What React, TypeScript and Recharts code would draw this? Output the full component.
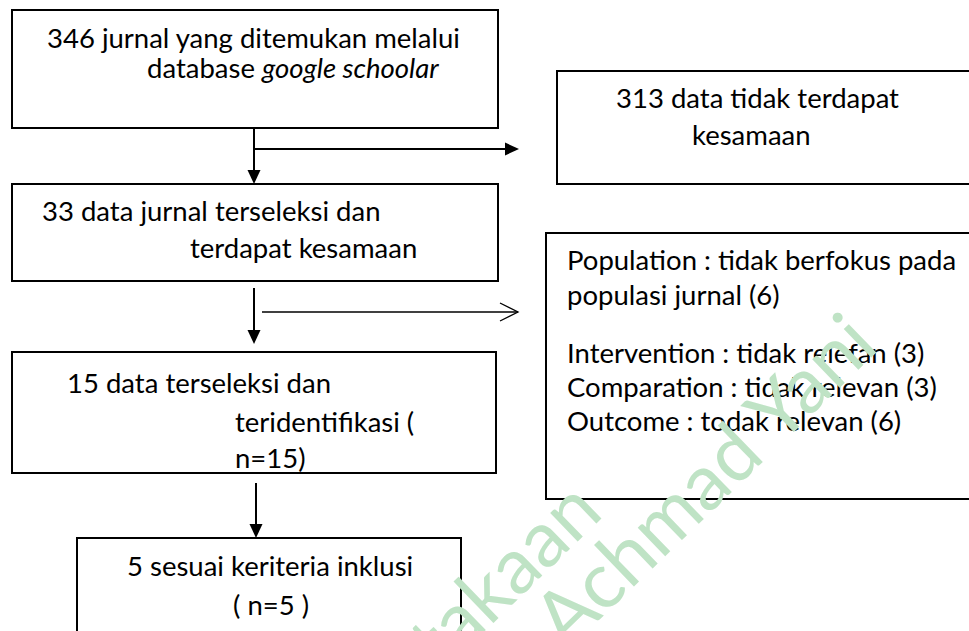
import { ComposedChart, XAxis, YAxis, ReferenceArea, ReferenceLine, ReferenceDot } from "recharts";

// numbers of journals at each step of the selection
const journalCounts = [346, 313, 33, 15, 5];
const reasonLabels = ["Population", "Intervention", "Comparation", "Outcome"];
const reasonTexts = ["tidak berfokus pada", "tidak relefan", "tidak relevan", "todak relevan"];
const reasonCounts = [6, 3, 3, 6];
const watermarkWords = ["Perpustakaan", "Achmad Yani"];

type Seg = { text: string; italic?: boolean };
type Line = Seg[];

const foundLines: Line[] = [
  [{ text: `${journalCounts[0]} jurnal yang ditemukan melalui` }],
  [{ text: "database " }, { text: "google schoolar", italic: true }],
];
const excludedLines: Line[] = [
  [{ text: `${journalCounts[1]} data tidak terdapat` }],
  [{ text: "kesamaan" }],
];
const screenedLines: Line[] = [
  [{ text: `${journalCounts[2]} data jurnal terseleksi dan` }],
  [{ text: "terdapat kesamaan" }],
];
const reasonLines: Line[] = [
  [{ text: `${reasonLabels[0]} : ${reasonTexts[0]}` }],
  [{ text: `populasi jurnal (${reasonCounts[0]})` }],
  [{ text: `${reasonLabels[1]} : ${reasonTexts[1]} (${reasonCounts[1]})` }],
  [{ text: `${reasonLabels[2]} : ${reasonTexts[2]} (${reasonCounts[2]})` }],
  [{ text: `${reasonLabels[3]} : ${reasonTexts[3]} (${reasonCounts[3]})` }],
];
const identifiedLines: Line[] = [
  [{ text: `${journalCounts[3]} data terseleksi dan` }],
  [{ text: "teridentifikasi (" }],
  [{ text: `n=${journalCounts[3]})` }],
];
const includedLines: Line[] = [
  [{ text: `${journalCounts[4]} sesuai keriteria inklusi` }],
  [{ text: `( n=${journalCounts[4]} )` }],
];

// layout of the flow diagram (page units = px)
const W = 969;
const H = 631;
const FONT = "Lato, 'Open Sans', sans-serif";
const FONT_SIZE = 27.5;

const boxes = [
  { lines: foundLines, x1: 12, x2: 498, y1: 10, y2: 128, pos: [[35, 38], [135, 68]] },
  { lines: excludedLines, x1: 557, x2: 972, y1: 71, y2: 184, pos: [[59, 37], [135, 74]] },
  { lines: screenedLines, x1: 12, x2: 498, y1: 184, y2: 281, pos: [[30, 37], [178, 74]] },
  { lines: reasonLines, x1: 546, x2: 972, y1: 233, y2: 499, pos: [[21, 37], [21, 72], [21, 130], [21, 164], [21, 198]] },
  { lines: identifiedLines, x1: 12, x2: 496, y1: 352, y2: 473, pos: [[55, 41], [223, 80], [223, 116]] },
  { lines: includedLines, x1: 77, x2: 461, y1: 538, y2: 640, pos: [[50, 38], [156, 77]] },
];

const arrows = [
  { x1: 254, y1: 128, x2: 254, y2: 184, open: false },
  { x1: 254, y1: 149, x2: 519, y2: 149, open: false },
  { x1: 254, y1: 288, x2: 254, y2: 344, open: false },
  { x1: 262, y1: 312, x2: 518, y2: 312, open: true },
  { x1: 256, y1: 483, x2: 256, y2: 538, open: false },
];

const watermarks = [
  { x: 605, y: 515, anchor: "end" },
  { x: 566, y: 652, anchor: "start" },
];

const Arrow = (props: any) => {
  const { x1, y1, x2, y2, open } = props;
  const dx = x2 - x1;
  const dy = y2 - y1;
  const len = Math.sqrt(dx * dx + dy * dy) || 1;
  const ux = dx / len;
  const uy = dy / len;
  const hl = open ? 18 : 14;
  const hw = open ? 9 : 6.5;
  const bx = x2 - ux * hl;
  const by = y2 - uy * hl;
  const p1 = `${bx - uy * hw},${by + ux * hw}`;
  const p2 = `${bx + uy * hw},${by - ux * hw}`;
  if (open) {
    return (
      <g>
        <line x1={x1} y1={y1} x2={x2} y2={y2} stroke="#000" strokeWidth={1.3} />
        <polyline points={`${p1} ${x2},${y2} ${p2}`} fill="none" stroke="#000" strokeWidth={1.3} />
      </g>
    );
  }
  return (
    <g>
      <line x1={x1} y1={y1} x2={bx + ux} y2={by + uy} stroke="#000" strokeWidth={2} />
      <polygon points={`${p1} ${x2},${y2} ${p2}`} fill="#000" />
    </g>
  );
};

const Box = (props: any) => {
  const { x, y, width, height, lines, pos } = props;
  return (
    <g>
      <rect x={x} y={y} width={width} height={height} fill="none" stroke="#000" strokeWidth={2} />
      {lines.map((line: Line, i: number) => (
        <text
          key={i}
          x={x + pos[i][0]}
          y={y + pos[i][1]}
          fontFamily={FONT}
          fontSize={FONT_SIZE}
          fill="#000"
        >
          {line.map((s, j) => (
            <tspan key={j} fontStyle={s.italic ? "italic" : "normal"}>
              {s.text}
            </tspan>
          ))}
        </text>
      ))}
    </g>
  );
};

const Watermark = (props: any) => {
  const { cx, cy, word, anchor } = props;
  return (
    <text
      x={cx}
      y={cy}
      transform={`rotate(-44 ${cx} ${cy})`}
      textAnchor={anchor}
      fontFamily={FONT}
      fontSize={78}
      fill="#bfe3c5"
    >
      {word}
    </text>
  );
};

const App = () => {
  return (
    <div style={{ position: "absolute", left: 0, top: 0, background: "#fff" }}>
      <ComposedChart width={W} height={H} margin={{ top: 0, right: 0, bottom: 0, left: 0 }}>
        <XAxis type="number" dataKey="x" domain={[0, W]} allowDataOverflow hide />
        <YAxis type="number" dataKey="y" domain={[0, H]} allowDataOverflow reversed hide />
        {watermarks.map((w, i) => (
          <ReferenceDot
            key={`wm-${i}`}
            x={w.x}
            y={w.y}
            r={0}
            ifOverflow="visible"
            shape={(p: any) => <Watermark {...p} word={watermarkWords[i]} anchor={w.anchor} />}
          />
        ))}
        {boxes.map((b, i) => (
          <ReferenceArea
            key={`box-${i}`}
            x1={b.x1}
            x2={b.x2}
            y1={b.y1}
            y2={b.y2}
            ifOverflow="visible"
            shape={(p: any) => <Box {...p} lines={b.lines} pos={b.pos} />}
          />
        ))}
        {arrows.map((a, i) => (
          <ReferenceLine
            key={`arrow-${i}`}
            segment={[
              { x: a.x1, y: a.y1 },
              { x: a.x2, y: a.y2 },
            ]}
            ifOverflow="visible"
            shape={(p: any) => <Arrow {...p} open={a.open} />}
          />
        ))}
      </ComposedChart>
    </div>
  );
};

export default App;
